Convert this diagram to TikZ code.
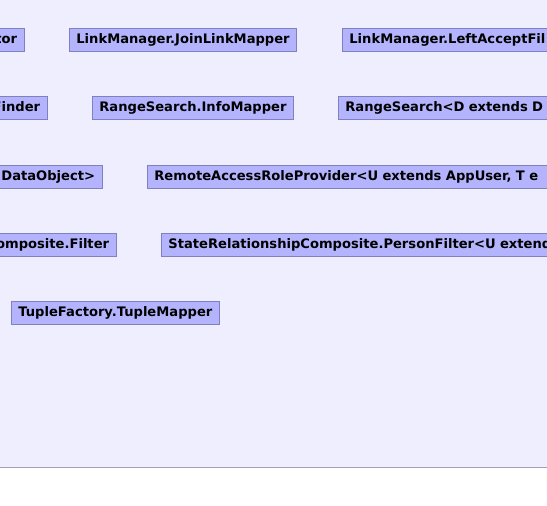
\documentclass[tikz,border=0pt]{standalone}
\usepackage{fontspec}
\setmainfont{DejaVu Sans}
\definecolor{panelbg}{RGB}{238, 238, 254}
\definecolor{classfill}{RGB}{180, 180, 254}
\definecolor{classedge}{RGB}{128, 128, 190}
\definecolor{rulegray}{RGB}{165, 160, 178}
\usepackage{tikz}
\usetikzlibrary{positioning}

\begin{document}
\begin{tikzpicture}[
  x=1pt, y=-1pt,
  clsbox/.style={draw=classedge, fill=classfill, line width=0.8pt, inner xsep=7pt, inner ysep=0pt,
    minimum height=23pt, text height=9.5pt, text depth=2.5pt, font=\fontsize{13.1}{15}\selectfont\bfseries},
  cutleft/.style={clsbox, anchor=east, text width=160pt, align=right},
  cutright/.style={clsbox, anchor=west, text width=480pt, align=left}
]
  \useasboundingbox (0,0) rectangle (547,506);
  \fill[white] (0,0) rectangle (547,506);
  \fill[panelbg] (0,0) rectangle (547,467);
  \draw[rulegray, line width=1.2pt] (0,467.5) -- (547,467.5);

  \begin{scope}
    \clip (0,0) rectangle (547,506);
    % row 1
    \node[cutleft] (iterator) at (24.5,40) {tor};
    \node[clsbox, anchor=west] (joinmapper) at (69,40) {LinkManager.JoinLinkMapper};
    \node[cutright] (leftaccept) at (342,40) {LinkManager.LeftAcceptFil};
    % row 2
    \node[cutleft] (finder) at (47.5,108) {Finder};
    \node[clsbox, anchor=west] (infomapper) at (92,108) {RangeSearch.InfoMapper};
    \node[cutright] (rangesearch) at (338,108) {RangeSearch<D extends D};
    % row 3
    \node[cutleft] (dataobject) at (102.5,176.5) {DataObject>};
    \node[cutright] (roleprovider) at (147,176.5) {RemoteAccessRoleProvider<U extends AppUser, T e};
    % row 4
    \node[cutleft] (filter) at (116.5,244.5) {omposite.Filter};
    \node[cutright] (personfilter) at (161,244.5) {StateRelationshipComposite.PersonFilter<U extend};
    % row 5
    \node[clsbox, anchor=west] (tuplemapper) at (11,312.5) {TupleFactory.TupleMapper};
  \end{scope}
\end{tikzpicture}
\end{document}
